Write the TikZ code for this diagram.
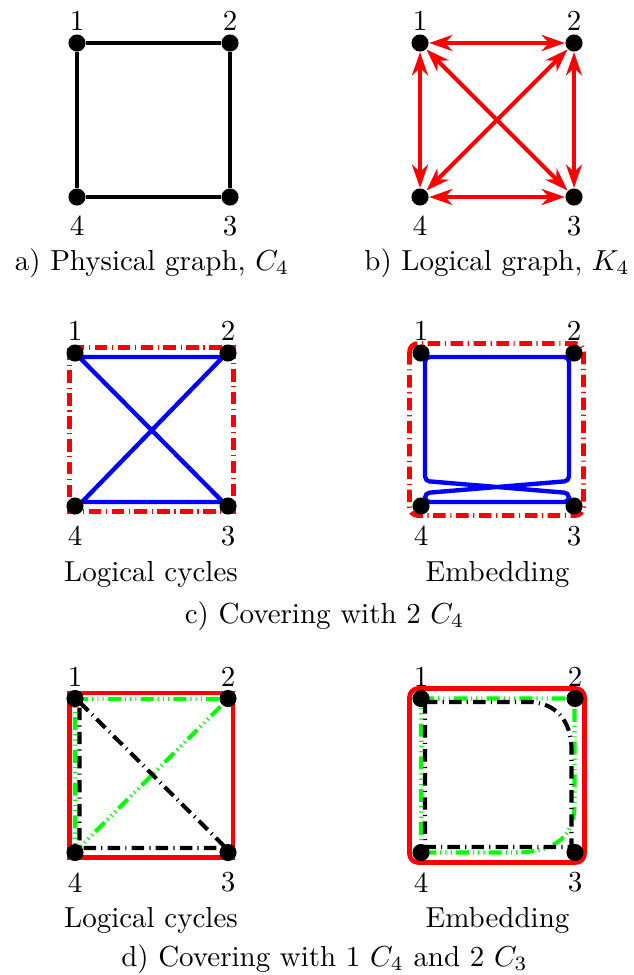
\documentclass[tikz,border=0pt]{standalone}
\usetikzlibrary{arrows.meta}
\begin{document}
\begin{tikzpicture}[x=0.345pt,y=-0.345pt,
  dot/.style={circle,fill=black,inner sep=0pt,minimum size=5.9pt},
  lab/.style={inner sep=0pt},
  captext/.style={inner sep=0pt,anchor=base},
  blackedge/.style={black,line width=1.2pt},
  redarrow/.style={red,line width=1.4pt,{Stealth[length=8pt,width=5.5pt,inset=2.5pt]}-{Stealth[length=8pt,width=5.5pt,inset=2.5pt]}},
  blueline/.style={blue,line width=1.5pt,line join=round},
  rdd/.style={red,line width=1.7pt,dash pattern=on 4.3pt off 1.6pt on 0.4pt off 1.6pt},
  redsolid/.style={red,line width=1.6pt},
  gdd/.style={green,line width=1.4pt,dash pattern=on 4.5pt off 1.4pt on 0.4pt off 1.4pt on 0.4pt off 1.4pt on 0.4pt off 1.4pt},
  kdd/.style={black,line width=1.4pt,dash pattern=on 4.3pt off 1.8pt on 0.4pt off 1.8pt}]
\useasboundingbox (0,0) rectangle (634,975);

% ---------- panel a ----------
\node[dot] (A1) at (77,43) {};
\node[dot] (A2) at (230,43) {};
\node[dot] (A3) at (230,197) {};
\node[dot] (A4) at (77,197) {};
\draw[blackedge] (A1) -- (A2) -- (A3) -- (A4) -- (A1);
\node[lab] (la1) at (77,20.5) {1};
\node[lab] (la2) at (230,20.5) {2};
\node[lab] (la3) at (230,226) {3};
\node[lab] (la4) at (77,226) {4};
\node[captext] (capa) at (152,270) {a) Physical graph, $C_4$};

% ---------- panel b ----------
\node[dot] (B1) at (420,43) {};
\node[dot] (B2) at (574,43) {};
\node[dot] (B3) at (574,197) {};
\node[dot] (B4) at (420,197) {};
\draw[redarrow] (B1) -- (B2);
\draw[redarrow] (B2) -- (B3);
\draw[redarrow] (B3) -- (B4);
\draw[redarrow] (B4) -- (B1);
\draw[redarrow] (B1) -- (B3);
\draw[redarrow] (B2) -- (B4);
\node[lab] (lb1) at (420,20.5) {1};
\node[lab] (lb2) at (574,20.5) {2};
\node[lab] (lb3) at (574,226) {3};
\node[lab] (lb4) at (420,226) {4};
\node[captext] (capb) at (497,270) {b) Logical graph, $K_4$};

% ---------- panel c left ----------
\draw[rdd] (69.5,347.5) rectangle (233.5,511.5);
\draw[blueline] (79,357) -- (223,357) -- (82,502) -- (223,502) -- cycle;
\node[dot] (C1) at (75,353) {};
\node[dot] (C2) at (228,353) {};
\node[dot] (C3) at (228,506) {};
\node[dot] (C4) at (75,506) {};
\node[lab] (lc1) at (75,330.5) {1};
\node[lab] (lc2) at (228,330.5) {2};
\node[lab] (lc3) at (228,536) {3};
\node[lab] (lc4) at (75,536) {4};
\node[captext] (capcl) at (151,581) {Logical cycles};

% ---------- panel c right ----------
\draw[rdd,rounded corners=3pt] (409.5,343.5) rectangle (583.5,515.5);
\draw[blueline,rounded corners=1.6pt] (425,420) -- (425,481) -- (569,493) -- (569,502) -- (425,502) -- (425,493) -- (569,481) -- (569,357) -- (425,357) -- cycle;
\node[dot] (E1) at (421,353) {};
\node[dot] (E2) at (574,353) {};
\node[dot] (E3) at (574,506) {};
\node[dot] (E4) at (421,506) {};
\node[lab] (le1) at (421,330.5) {1};
\node[lab] (le2) at (574,330.5) {2};
\node[lab] (le3) at (574,536) {3};
\node[lab] (le4) at (421,536) {4};
\node[captext] (capcr) at (497.5,581) {Embedding};
\node[captext] (capc) at (324.5,623) {c) Covering with 2 $C_4$};

% ---------- panel d left ----------
\draw[redsolid] (69.5,693) rectangle (233,857.5);
\draw[gdd] (75,699) -- (228,699) -- (75,852) -- cycle;
\draw[kdd] (79.5,702) -- (226,848) -- (79.5,848) -- cycle;
\node[dot] (D1) at (75,698.5) {};
\node[dot] (D2) at (228,698.5) {};
\node[dot] (D3) at (228,852.5) {};
\node[dot] (D4) at (75,852.5) {};
\node[lab] (ld1) at (75,677) {1};
\node[lab] (ld2) at (228,677) {2};
\node[lab] (ld3) at (228,882.5) {3};
\node[lab] (ld4) at (75,882.5) {4};
\node[captext] (capdl) at (151,927) {Logical cycles};

% ---------- panel d right ----------
\draw[redsolid,rounded corners=3pt] (409.5,688.5) rectangle (584.5,862.5);
\draw[gdd] (421,698.5) -- (574.5,698.5) -- (574.5,805) .. controls (574.5,840) and (550,852.5) .. (515,852.5) -- (421,852.5) -- cycle;
\draw[kdd] (425,702) -- (528,702) .. controls (555,702) and (571.5,720) .. (571.5,750) -- (571.5,847) -- (425,847) -- cycle;
\node[dot] (F1) at (421,698.5) {};
\node[dot] (F2) at (575,698.5) {};
\node[dot] (F3) at (575,852.5) {};
\node[dot] (F4) at (421,852.5) {};
\node[lab] (lf1) at (421,677) {1};
\node[lab] (lf2) at (575,677) {2};
\node[lab] (lf3) at (575,882.5) {3};
\node[lab] (lf4) at (421,882.5) {4};
\node[captext] (capdr) at (497.5,927) {Embedding};
\node[captext] (capd) at (324.5,966.5) {d) Covering with 1 $C_4$ and 2 $C_3$};
\end{tikzpicture}
\end{document}
